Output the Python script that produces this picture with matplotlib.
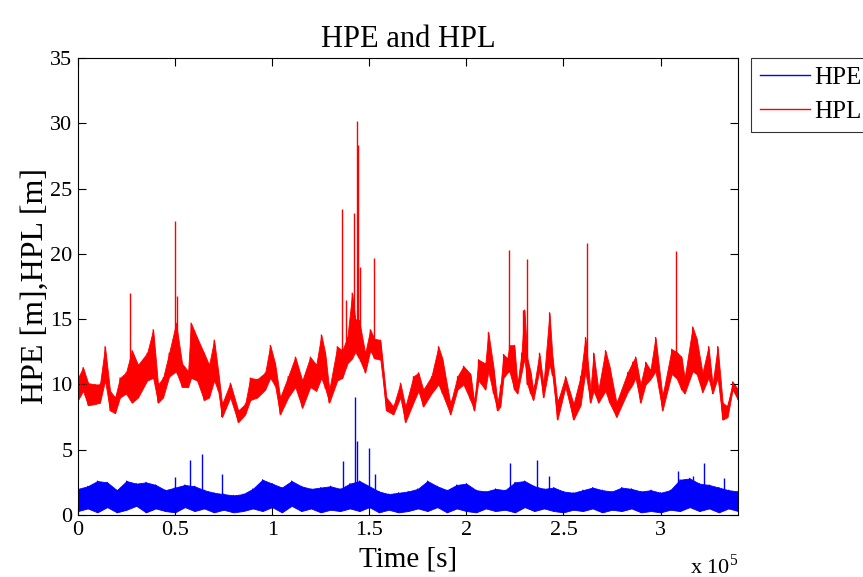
import numpy as np
import matplotlib
matplotlib.use("Agg")
from matplotlib import pyplot as plt
from matplotlib.lines import Line2D

plt.rcParams["font.family"] = ["Liberation Serif", "DejaVu Serif"]
plt.rcParams["mathtext.fontset"] = "custom"
plt.rcParams["mathtext.rm"] = "Liberation Serif"

# time axis in units of 1e5 s
hpl_t = [0.000, 0.026, 0.052, 0.088, 0.113, 0.139, 0.165, 0.191, 0.216, 0.247,
         0.278, 0.309, 0.356, 0.387, 0.412, 0.438, 0.469, 0.505, 0.536, 0.567,
         0.582, 0.613, 0.649, 0.675, 0.701, 0.722, 0.742, 0.784, 0.825, 0.861,
         0.887, 0.923, 0.964, 0.990, 1.015, 1.041, 1.082, 1.119, 1.155, 1.196,
         1.227, 1.253, 1.273, 1.294, 1.335, 1.361, 1.387, 1.412, 1.428, 1.448,
         1.479, 1.505, 1.526, 1.557, 1.588, 1.624, 1.660, 1.686, 1.727, 1.753,
         1.778, 1.820, 1.856, 1.876, 1.918, 1.954, 1.985, 2.021, 2.041, 2.062,
         2.098, 2.113, 2.139, 2.160, 2.175, 2.191, 2.211, 2.222, 2.247, 2.263,
         2.284, 2.299, 2.314, 2.330, 2.345, 2.376, 2.397, 2.428, 2.443, 2.469,
         2.510, 2.552, 2.588, 2.613, 2.639, 2.655, 2.680, 2.716, 2.737, 2.773,
         2.830, 2.856, 2.871, 2.897, 2.923, 2.948, 2.974, 3.010, 3.057, 3.082,
         3.108, 3.124, 3.165, 3.186, 3.216, 3.247, 3.268, 3.294, 3.320, 3.345,
         3.371, 3.400]
hpl_lo = [8.8, 9.5, 8.4, 8.5, 8.6, 10.3, 8.0, 7.8, 9.0, 9.3,
          8.6, 9.0, 10.3, 10.5, 8.6, 9.0, 10.6, 11.0, 9.8, 9.8,
          10.5, 10.3, 8.8, 9.0, 10.3, 9.5, 7.5, 9.0, 7.1, 7.7,
          8.8, 9.0, 9.6, 10.5, 9.9, 7.7, 9.0, 9.8, 8.2, 9.8,
          9.5, 10.5, 9.7, 8.6, 10.3, 10.5, 11.6, 12.0, 12.5, 12.0,
          10.9, 12.6, 12.0, 11.9, 8.0, 7.7, 9.0, 7.1, 8.6, 9.5,
          8.3, 9.3, 10.0, 9.3, 7.7, 9.6, 10.0, 8.8, 8.0, 10.3,
          9.6, 11.0, 9.3, 8.0, 8.3, 10.5, 10.9, 11.0, 9.6, 9.3,
          10.9, 12.0, 10.0, 9.3, 8.8, 11.1, 9.0, 11.5, 10.7, 7.3,
          9.8, 7.3, 8.4, 11.0, 8.6, 9.5, 8.6, 9.5, 8.6, 7.5,
          9.4, 10.0, 10.5, 8.6, 10.0, 10.4, 11.0, 8.0, 10.8, 10.5,
          9.6, 9.3, 11.0, 10.8, 9.4, 10.5, 9.3, 10.5, 7.3, 7.5,
          9.6, 8.8]
hpl_hi = [10.5, 11.3, 10.1, 10.0, 10.0, 12.9, 9.5, 9.0, 10.5, 10.9,
          12.6, 11.5, 12.4, 14.2, 10.0, 10.5, 12.4, 14.7, 11.6, 11.0,
          14.7, 13.6, 12.4, 11.5, 13.4, 11.0, 8.5, 10.1, 8.0, 8.5,
          10.5, 10.4, 10.9, 13.0, 11.6, 9.0, 10.6, 12.1, 10.3, 12.1,
          11.5, 13.8, 12.4, 9.6, 12.9, 12.6, 13.6, 17.0, 15.0, 14.9,
          12.4, 14.2, 13.5, 13.4, 9.0, 8.3, 10.1, 8.3, 10.6, 10.9,
          9.6, 10.6, 12.9, 12.0, 8.5, 10.6, 11.4, 10.8, 8.6, 11.9,
          11.6, 14.0, 11.4, 8.6, 9.8, 12.3, 12.0, 13.0, 13.0, 10.0,
          12.4, 15.7, 12.0, 11.0, 9.5, 12.4, 10.0, 15.5, 12.2, 8.6,
          10.6, 8.5, 10.6, 13.6, 9.6, 12.4, 9.6, 12.6, 11.4, 8.6,
          10.9, 11.7, 12.1, 10.0, 11.7, 11.1, 13.6, 9.1, 12.7, 12.5,
          12.1, 10.5, 14.4, 13.5, 10.9, 12.9, 10.0, 12.9, 8.6, 8.3,
          10.2, 9.6]

# isolated HPL spikes
hpl_spike_t = [0.268, 0.500, 0.510, 1.361, 1.381, 1.423, 1.438, 1.443, 1.454,
               1.526, 2.222, 2.294, 2.314, 2.619, 3.082]
hpl_spike_v = [17.0, 22.5, 16.8, 23.4, 16.5, 23.1, 30.2, 28.3, 19.0,
               19.7, 20.3, 15.7, 19.6, 20.8, 20.2]

hpe_t = [0.00, 0.05, 0.10, 0.15, 0.20, 0.25, 0.30, 0.35, 0.40, 0.45,
         0.50, 0.55, 0.60, 0.65, 0.70, 0.75, 0.80, 0.85, 0.90, 0.95,
         1.00, 1.05, 1.10, 1.15, 1.20, 1.25, 1.30, 1.35, 1.40, 1.45,
         1.50, 1.55, 1.60, 1.65, 1.70, 1.75, 1.80, 1.85, 1.90, 1.95,
         2.00, 2.05, 2.10, 2.15, 2.20, 2.25, 2.30, 2.35, 2.40, 2.45,
         2.50, 2.55, 2.60, 2.65, 2.70, 2.75, 2.80, 2.85, 2.90, 2.95,
         3.00, 3.05, 3.10, 3.15, 3.20, 3.25, 3.30, 3.35, 3.40]
hpe_lo = [0.3, 0.5, 0.2, 0.6, 0.2, 0.4, 0.7, 0.2, 0.5, 0.3,
          0.2, 0.6, 0.3, 0.5, 0.2, 0.4, 0.2, 0.3, 0.5, 0.3,
          0.6, 0.2, 0.7, 0.3, 0.5, 0.2, 0.4, 0.3, 0.5, 0.3,
          0.6, 0.2, 0.4, 0.2, 0.3, 0.5, 0.3, 0.6, 0.2, 0.5,
          0.3, 0.2, 0.5, 0.3, 0.4, 0.2, 0.6, 0.3, 0.5, 0.3,
          0.2, 0.4, 0.3, 0.5, 0.2, 0.4, 0.3, 0.5, 0.2, 0.3,
          0.2, 0.4, 0.3, 0.6, 0.3, 0.5, 0.2, 0.5, 0.3]
hpe_hi = [2.0, 2.2, 2.6, 2.5, 1.9, 2.6, 2.4, 2.5, 2.3, 1.9,
          2.1, 2.3, 2.2, 1.9, 1.7, 1.6, 1.5, 1.6, 2.0, 2.7,
          2.4, 2.1, 2.6, 2.2, 2.0, 2.1, 2.2, 2.0, 2.4, 2.6,
          2.2, 1.8, 1.6, 1.7, 1.8, 2.0, 2.6, 2.2, 1.9, 2.3,
          2.4, 1.9, 1.8, 2.0, 1.9, 2.5, 2.6, 2.2, 2.0, 2.1,
          1.8, 1.7, 1.9, 2.1, 1.9, 1.8, 2.1, 2.0, 1.8, 1.9,
          1.7, 1.9, 2.7, 2.8, 2.4, 2.3, 2.1, 1.9, 1.8]

hpe_spike_t = [0.500, 0.577, 0.639, 0.742, 1.366, 1.428, 1.438, 1.500, 1.531,
               2.227, 2.366, 2.428, 3.088, 3.165, 3.222, 3.325]
hpe_spike_v = [2.9, 4.2, 4.7, 3.1, 4.1, 9.0, 5.7, 5.1, 3.1,
               4.0, 4.2, 3.0, 3.4, 3.0, 4.0, 2.8]

xticks = [0, 0.5, 1, 1.5, 2, 2.5, 3]
xtick_labels = ["0", "0.5", "1", "1.5", "2", "2.5", "3"]
yticks = [0, 5, 10, 15, 20, 25, 30, 35]

scale = 1e5
blue = "#0000ff"
red = "#ff0000"


def draw_band(ax, t, lo, hi, color):
    t = np.array(t) * scale
    ax.fill_between(t, lo, hi, color=color, lw=0.6)
    # vertical strokes low->high at each sample, like a dense trace
    xs = np.repeat(t, 2)
    ys = np.column_stack([lo, hi]).ravel()
    ax.plot(xs, ys, color=color, lw=0.8)


fig = plt.figure(figsize=(8.63, 5.77), dpi=100)
ax = fig.add_axes([0.0904, 0.1075, 0.765, 0.792])

draw_band(ax, hpe_t, hpe_lo, hpe_hi, blue)
ax.vlines(np.array(hpe_spike_t) * scale, 0.5, hpe_spike_v, color=blue, lw=1.0)

draw_band(ax, hpl_t, hpl_lo, hpl_hi, red)
ax.vlines(np.array(hpl_spike_t) * scale,
          np.interp(hpl_spike_t, hpl_t, hpl_lo), hpl_spike_v, color=red, lw=1.0)

ax.set_xlim(0, 3.4 * scale)
ax.set_ylim(0, 35)
ax.set_xticks([v * scale for v in xticks])
ax.set_xticklabels(xtick_labels)
ax.set_yticks(yticks)
ax.tick_params(direction="in", length=6, width=0.8, top=True, right=True,
               labelsize=16, pad=4)
for s in ax.spines.values():
    s.set_linewidth(0.8)

ax.set_title("HPE and HPL", fontsize=22, pad=8)
ax.set_xlabel("Time [s]", fontsize=21, labelpad=5)
ax.set_ylabel("HPE [m],HPL [m]", fontsize=23, labelpad=0)
ax.text(1.0, -0.085, r"x 10$^{5}$", transform=ax.transAxes, ha="right",
        va="top", fontsize=16)

handles = [Line2D([], [], color=blue, lw=1.0), Line2D([], [], color=red, lw=1.0)]
leg = ax.legend(handles, ["HPE", "HPL"], loc="upper left",
                bbox_to_anchor=(1.02, 1.0), fontsize=18, frameon=True,
                fancybox=False, edgecolor="black", handlelength=2.0,
                borderaxespad=0, handletextpad=0.15, labelspacing=0.45,
                borderpad=0.35)
leg.get_frame().set_linewidth(0.8)

fig.savefig("out.png", dpi=100)
